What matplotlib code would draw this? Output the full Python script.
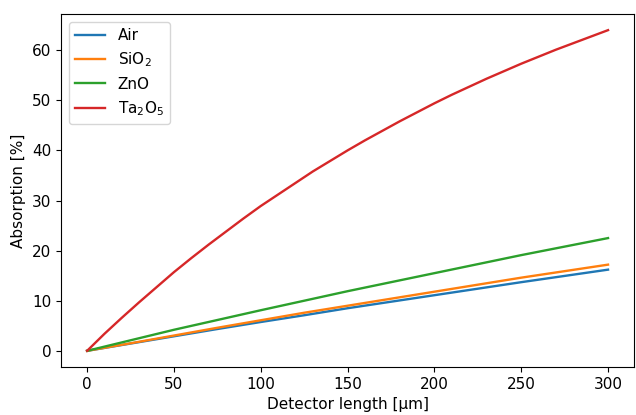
import numpy as np
import matplotlib
matplotlib.use("Agg")
import matplotlib.pyplot as plt

plt.rcParams['font.size'] = 11

# detector length [um]
length = [0, 25, 50, 75, 100, 125, 150, 175, 200, 225, 250, 275, 300]
air = [0, 1.45, 2.9, 4.35, 5.75, 7.1, 8.5, 9.8, 11.1, 12.4, 13.7, 14.95, 16.2]
sio2 = [0, 1.5, 3.05, 4.6, 6.1, 7.6, 9.0, 10.4, 11.8, 13.2, 14.6, 15.9, 17.2]
zno = [0, 2.1, 4.2, 6.15, 8.1, 10.0, 11.9, 13.7, 15.5, 17.3, 19.1, 20.8, 22.5]

# Ta2O5 bends a lot, so it is read every 10 um
length_ta = [0, 10, 20, 30, 40, 50, 60, 70, 80, 90, 100, 110, 120, 130, 140, 150,
             160, 170, 180, 190, 200, 210, 220, 230, 240, 250, 260, 270, 280, 290, 300]
ta2o5 = [0, 3.4, 6.6, 9.7, 12.7, 15.7, 18.5, 21.2, 23.8, 26.4, 28.9, 31.2, 33.5, 35.8,
         37.9, 40.0, 42.0, 43.9, 45.8, 47.6, 49.4, 51.1, 52.7, 54.3, 55.8, 57.3, 58.7,
         60.1, 61.4, 62.7, 64.0]

fig, ax = plt.subplots(figsize=(6.36, 4.15), dpi=100)
ax.plot(length, air, label="Air", linewidth=1.7)
ax.plot(length, sio2, label="SiO$_2$", linewidth=1.7)
ax.plot(length, zno, label="ZnO", linewidth=1.7)
ax.plot(length_ta, ta2o5, label="Ta$_2$O$_5$", linewidth=1.7)

ax.set_xlabel("Detector length [µm]")
ax.set_ylabel("Absorption [%]")
ax.legend(loc="upper left")

fig.subplots_adjust(left=0.096, right=0.997, top=0.966, bottom=0.116)
fig.savefig("out.png", dpi=100)
